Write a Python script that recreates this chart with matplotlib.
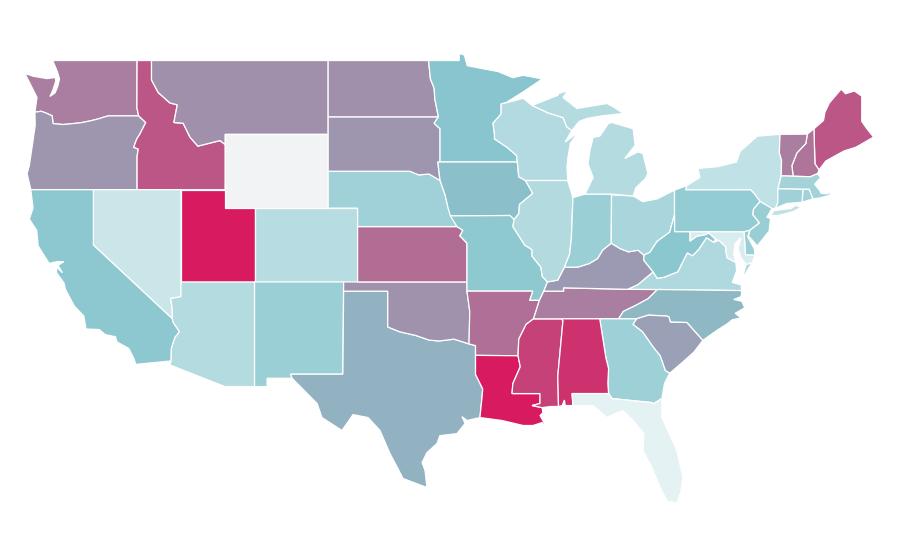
import numpy as np
import matplotlib
matplotlib.use('Agg')
import matplotlib.pyplot as plt
from matplotlib.colors import LinearSegmentedColormap

# state outlines, lon/lat
WA = [[(-122.76,49),(-117.03,49),(-117.04,46.42),(-116.92,46.0),(-118.98,46.0),(-119.3,45.93),(-119.6,45.85),(-120.2,45.73),(-120.9,45.62),(-122.06,45.53),(-122.74,45.58),(-122.8,46.0),(-123.2,46.15),(-123.55,46.25),(-123.97,46.2),(-123.83,47.0),(-124.3,47.75),(-124.65,48.3),(-124.1,48.15),(-123.15,48.02),(-122.6,48.08),(-122.55,47.9),(-122.75,47.4),(-122.95,47.05),(-122.6,47.25),(-122.42,47.6),(-122.3,48.0),(-122.45,48.4)]]
OR = [[(-123.97,46.2),(-123.55,46.25),(-123.2,46.15),(-122.8,46.0),(-122.74,45.58),(-122.06,45.53),(-120.9,45.62),(-120.2,45.73),(-119.6,45.85),(-119.3,45.93),(-118.98,46.0),(-116.92,46.0),(-116.44,45.64),(-116.85,45.0),(-117.05,44.75),(-117.26,44.3),(-116.95,44.2),(-117.03,43.8),(-117.03,42),(-124.25,42),(-124.5,42.87),(-124.35,43.3),(-124.1,44.66),(-123.95,45.5)]]
ID = [[(-117.03,49),(-116.05,49),(-116.05,47.95),(-115.6,47.27),(-114.8,46.7),(-114.3,46.6),(-114.53,45.64),(-113.9,45.6),(-113.44,44.85),(-112.9,44.36),(-111.4,44.66),(-111.05,44.45),(-111.05,42),(-117.03,42),(-117.03,43.8),(-116.95,44.2),(-117.26,44.3),(-117.05,44.75),(-116.85,45.0),(-116.44,45.64),(-116.92,46.0),(-117.04,46.42)]]
MT = [[(-116.05,49),(-104.05,49),(-104.05,45),(-111.05,45),(-111.05,44.45),(-111.4,44.66),(-112.9,44.36),(-113.44,44.85),(-113.9,45.6),(-114.53,45.64),(-114.3,46.6),(-114.8,46.7),(-115.6,47.27),(-116.05,47.95)]]
WY = [[(-111.05,45),(-104.05,45),(-104.05,41),(-111.05,41)]]
UT = [[(-114.05,42),(-111.05,42),(-111.05,41),(-109.05,41),(-109.05,37),(-114.05,37)]]
CO = [[(-109.05,41),(-102.05,41),(-102.05,37),(-109.05,37)]]
NV = [[(-120,42),(-114.05,42),(-114.05,36.2),(-114.75,36.1),(-114.65,35.6),(-114.63,35),(-120,39)]]
CA = [[(-124.25,42),(-120,42),(-120,39),(-114.63,35),(-114.57,34.8),(-114.15,34.3),(-114.45,34.0),(-114.7,33.4),(-114.72,32.72),(-117.12,32.53),(-117.25,32.85),(-117.6,33.4),(-118.4,33.75),(-118.5,34.03),(-119.2,34.15),(-119.6,34.42),(-120.5,34.45),(-120.65,35.15),(-121.3,35.7),(-121.9,36.6),(-122.0,36.95),(-122.5,37.5),(-122.5,37.8),(-122.1,37.5),(-122.4,37.9),(-122.0,38.1),(-122.5,38.1),(-123.0,38.0),(-123.75,38.95),(-123.85,39.8),(-124.35,40.4),(-124.1,41.0)]]
AZ = [[(-114.05,37),(-109.05,37),(-109.05,31.33),(-111.07,31.33),(-114.8,32.5),(-114.72,32.72),(-114.7,33.4),(-114.45,34.0),(-114.15,34.3),(-114.57,34.8),(-114.63,35),(-114.65,35.6),(-114.75,36.1),(-114.05,36.2)]]
NM = [[(-109.05,37),(-103,37),(-103.05,32),(-106.6,32),(-106.5,31.78),(-108.2,31.78),(-108.2,31.33),(-109.05,31.33)]]
TX = [[(-103,36.5),(-100,36.5),(-100,34.56),(-99.2,34.3),(-98.1,34.1),(-97.2,33.85),(-96.5,33.8),(-95.5,33.9),(-94.48,33.64),(-94.04,33.55),(-94.04,31.99),(-93.55,31.2),(-93.6,30.73),(-93.74,29.65),(-94.62,29.49),(-94.96,29.7),(-94.75,29.33),(-95.3,28.78),(-96.46,28.67),(-96.66,28.24),(-97.34,27.75),(-97.67,27.21),(-97.47,26.78),(-97.34,25.86),(-98.97,26.35),(-99.31,26.89),(-99.85,27.7),(-100.53,28.95),(-101.34,29.65),(-102.36,29.81),(-103.11,28.95),(-104.47,29.65),(-104.8,30.41),(-106.5,31.78),(-106.6,32),(-103.05,32)]]
OK = [[(-103,37),(-94.62,37),(-94.62,36.5),(-94.43,35.4),(-94.48,33.64),(-95.5,33.9),(-96.5,33.8),(-97.2,33.85),(-98.1,34.1),(-99.2,34.3),(-100,34.56),(-100,36.5),(-103,36.5)]]
KS = [[(-102.05,40),(-95.3,40),(-94.9,39.8),(-95.1,39.5),(-94.62,39.1),(-94.62,37),(-102.05,37)]]
NE = [[(-104.05,43),(-98.5,43),(-97.9,42.8),(-97.2,42.85),(-96.45,42.5),(-96.1,41.7),(-95.9,41.0),(-95.3,40),(-102.05,40),(-102.05,41),(-104.05,41)]]
SD = [[(-104.05,45.95),(-96.56,45.95),(-96.85,45.6),(-96.45,45.3),(-96.45,43.5),(-96.6,43.5),(-96.45,42.5),(-97.2,42.85),(-97.9,42.8),(-98.5,43),(-104.05,43)]]
ND = [[(-104.05,49),(-97.23,49),(-97.1,48),(-96.85,47.5),(-96.8,46.9),(-96.56,45.95),(-104.05,45.95)]]
MN = [[(-97.23,49),(-95.15,49),(-95.15,49.38),(-94.8,49.3),(-94.6,48.72),(-93.5,48.55),(-92.5,48.4),(-91.5,48.07),(-90.8,48.2),(-89.5,48.0),(-90.8,47.3),(-92.0,46.7),(-92.3,46.65),(-92.3,46.1),(-92.85,45.6),(-92.75,45.0),(-92.75,44.75),(-91.9,44.3),(-91.25,43.85),(-91.2,43.5),(-96.45,43.5),(-96.45,45.3),(-96.85,45.6),(-96.56,45.95),(-96.8,46.9),(-96.85,47.5),(-97.1,48)]]
IA = [[(-96.45,43.5),(-91.2,43.5),(-91.1,42.7),(-90.65,42.5),(-90.15,41.8),(-91.05,41.2),(-91.1,40.7),(-91.42,40.38),(-91.7,40.6),(-95.75,40.58),(-95.9,41.0),(-96.1,41.7),(-96.45,42.5),(-96.6,43.5)]]
MO = [[(-95.75,40.58),(-91.7,40.6),(-91.42,40.38),(-91.5,40.0),(-90.7,39.0),(-90.2,38.75),(-90.2,38.4),(-89.6,37.8),(-89.5,37.3),(-89.15,37.0),(-89.4,36.5),(-89.7,36.0),(-90.37,36.0),(-90.15,36.5),(-94.62,36.5),(-94.62,39.1),(-95.1,39.5),(-94.9,39.8),(-95.3,40)]]
AR = [[(-94.62,36.5),(-90.15,36.5),(-90.37,36),(-89.7,36),(-90.1,35.0),(-90.6,34.7),(-91.1,33.9),(-91.15,33.0),(-94.04,33.02),(-94.04,33.55),(-94.48,33.64),(-94.43,35.4)]]
LA = [[(-94.04,33.02),(-91.15,33.0),(-91.0,32.4),(-91.5,31.5),(-91.56,30.95),(-89.66,30.95),(-89.66,30.41),(-90.2,30.3),(-89.52,30.19),(-89.46,29.92),(-89.66,29.76),(-89.11,29.0),(-89.52,29.38),(-90.13,29.22),(-90.81,29.22),(-92.24,29.49),(-93.74,29.65),(-93.6,30.73),(-93.55,31.2),(-94.04,31.99)]]
MS = [[(-90.1,35),(-88.2,35),(-88.1,34.9),(-88.45,31.9),(-88.4,30.25),(-88.9,30.25),(-89.52,30.19),(-90.2,30.3),(-89.66,30.41),(-89.66,30.95),(-91.56,30.95),(-91.5,31.5),(-91,32.4),(-91.15,33),(-91.1,33.9),(-90.6,34.7)]]
TN = [[(-90.1,35.0),(-88.2,35),(-85.6,35),(-84.32,35),(-84.0,35.4),(-83.1,35.75),(-82.3,36.1),(-81.68,36.59),(-83.68,36.6),(-88.07,36.68),(-88.05,36.5),(-89.4,36.5),(-89.7,36)]]
KY = [[(-89.4,36.5),(-88.05,36.5),(-88.07,36.68),(-83.68,36.6),(-83.0,36.85),(-81.97,37.54),(-82.6,38.17),(-82.6,38.45),(-83.0,38.72),(-83.65,38.63),(-84.2,38.8),(-84.82,39.1),(-85.4,38.73),(-85.75,38.27),(-86.3,38.0),(-87.1,37.8),(-88.0,37.8),(-88.45,37.1),(-89.15,37.0)]]
IL = [[(-90.65,42.5),(-87.8,42.5),(-87.76,42.44),(-87.42,41.57),(-87.53,39.35),(-87.65,38.5),(-88.0,37.8),(-88.45,37.1),(-89.15,37.0),(-89.5,37.3),(-89.6,37.8),(-90.2,38.4),(-90.2,38.75),(-90.7,39),(-91.5,40),(-91.42,40.38),(-91.1,40.7),(-91.05,41.2),(-90.15,41.8)]]
IN = [[(-87.42,41.57),(-86.6,41.76),(-84.8,41.76),(-84.82,39.1),(-85.4,38.73),(-85.75,38.27),(-86.3,38),(-87.1,37.8),(-88,37.8),(-87.65,38.5),(-87.53,39.35)]]
OH = [[(-84.8,41.72),(-83.33,41.66),(-82.67,41.35),(-81.7,41.5),(-80.52,41.98),(-80.52,40.64),(-80.85,39.7),(-81.7,39.2),(-82.2,38.6),(-82.6,38.45),(-83,38.72),(-83.65,38.63),(-84.2,38.8),(-84.82,39.1)]]
MI = [[(-86.6,41.76),(-84.8,41.76),(-83.33,41.66),(-83.15,42.1),(-82.5,42.6),(-82.33,42.88),(-82.67,43.96),(-83.0,44.05),(-83.9,43.69),(-83.2,44.4),(-83.33,45.3),(-84.77,45.64),(-85.0,45.6),(-85.6,44.9),(-86.05,44.83),(-86.27,44.12),(-86.4,43.4),(-86.05,42.66)],
      [(-90.2,46.56),(-88.44,47.12),(-88.44,47.2),(-87.76,47.37),(-88.1,47.0),(-87.15,46.4),(-85.1,46.67),(-84.6,46.45),(-84.0,46.13),(-85.45,46.0),(-86.47,45.86),(-87.0,45.7),(-87.5,45.2),(-87.85,45.4),(-88.1,45.9),(-89.1,46.15)]]
WI = [[(-92.3,46.65),(-92.0,46.7),(-90.8,46.95),(-90.2,46.56),(-89.1,46.15),(-88.1,45.9),(-87.85,45.4),(-87.5,45.2),(-87.95,44.58),(-87.08,45.1),(-87.6,44.5),(-87.76,43.74),(-87.83,43.2),(-87.76,42.44),(-87.8,42.5),(-90.65,42.5),(-91.1,42.7),(-91.2,43.5),(-91.25,43.85),(-91.9,44.3),(-92.75,44.75),(-92.75,45),(-92.85,45.6),(-92.3,46.1)]]
PA = [[(-80.52,41.98),(-79.68,42.22),(-79.76,42),(-75.35,42),(-75.1,41.8),(-74.7,41.36),(-75.15,40.95),(-75.2,40.65),(-74.75,40.2),(-75.4,39.8),(-75.8,39.72),(-80.52,39.72)]]
NY = [[(-79.68,42.22),(-78.8,42.66),(-78.93,43.15),(-77.56,43.25),(-76.3,43.5),(-76.07,44.07),(-74.9,44.9),(-73.35,45),(-73.4,44),(-73.25,43.6),(-73.27,42.75),(-73.5,42.05),(-73.5,41.3),(-73.65,41.0),(-73.9,40.95),(-74.7,41.36),(-75.1,41.8),(-75.35,42),(-79.76,42)],
      [(-74.0,40.6),(-73.75,40.87),(-72.6,40.98),(-72.3,41.15),(-71.9,41.05),(-72.5,40.8),(-73.5,40.6)]]
NJ = [[(-74.7,41.36),(-73.9,40.98),(-74.25,40.5),(-74.0,40.45),(-74.1,39.75),(-74.9,38.95),(-75.5,39.5),(-75.4,39.8),(-74.75,40.2),(-75.2,40.65),(-75.15,40.95)]]
DE = [[(-75.8,39.72),(-75.4,39.8),(-75.55,39.45),(-75.1,38.8),(-75.05,38.45),(-75.7,38.46)]]
MD = [[(-79.48,39.72),(-75.8,39.72),(-75.7,38.46),(-75.05,38.45),(-75.25,38.03),(-75.65,37.95),(-76.0,38.3),(-76.2,38.8),(-76.0,39.4),(-76.4,39.1),(-76.5,38.5),(-76.35,38.05),(-76.95,38.3),(-77.05,38.7),(-77.05,38.9),(-77.5,39.25),(-77.75,39.32),(-78.2,39.65),(-78.45,39.55),(-79.0,39.47),(-79.48,39.2)]]
VA = [[(-83.68,36.6),(-81.68,36.59),(-75.95,36.53),(-76.0,36.85),(-76.6,36.97),(-76.3,37.6),(-76.35,38.05),(-76.95,38.3),(-77.05,38.7),(-77.05,38.9),(-77.5,39.25),(-77.85,39.15),(-78.35,39.4),(-78.87,38.77),(-79.3,38.42),(-79.65,38.58),(-80.3,37.55),(-81.25,37.25),(-81.7,37.2),(-81.97,37.54),(-83,36.85)],
      [(-75.65,37.95),(-75.25,38.03),(-75.95,37.15)]]
WV = [[(-80.52,40.64),(-80.52,39.72),(-79.48,39.72),(-79.48,39.2),(-79.0,39.47),(-78.45,39.55),(-78.2,39.65),(-77.75,39.32),(-77.85,39.15),(-78.35,39.4),(-78.87,38.77),(-79.3,38.42),(-79.65,38.58),(-80.3,37.55),(-81.25,37.25),(-81.7,37.2),(-81.97,37.54),(-82.6,38.17),(-82.6,38.45),(-82.2,38.6),(-81.7,39.2),(-80.85,39.7)]]
NC = [[(-84.32,35),(-84,35.4),(-83.1,35.75),(-82.3,36.1),(-81.68,36.59),(-75.95,36.53),(-76.0,36.2),(-76.5,36.05),(-75.95,35.95),(-75.75,35.6),(-76.4,35.3),(-76.0,35.05),(-76.6,34.95),(-76.9,34.75),(-77.65,34.37),(-78.6,33.83),(-79.68,34.8),(-80.8,34.82),(-80.9,35.1),(-81.05,35.15),(-82.3,35.2),(-83.1,35.0)]]
SC = [[(-83.1,35.0),(-82.3,35.2),(-81.05,35.15),(-80.9,35.1),(-80.8,34.82),(-79.68,34.8),(-78.6,33.83),(-79.2,33.2),(-79.9,32.7),(-80.85,32.05),(-81.15,32.2),(-81.5,33.0),(-82.0,33.5),(-82.7,34.3),(-83.35,34.7)]]
GA = [[(-85.6,35),(-84.32,35),(-83.1,35.0),(-83.35,34.7),(-82.7,34.3),(-82,33.5),(-81.5,33),(-81.15,32.2),(-80.85,32.05),(-81.2,31.5),(-81.38,30.68),(-81.95,30.4),(-82.05,30.46),(-84.77,30.68),(-85.0,30.95),(-85.05,31.5),(-85.0,32.3),(-85.18,32.87)]]
AL = [[(-88.2,35),(-85.6,35),(-85.18,32.87),(-85.0,32.3),(-85.05,31.5),(-85.0,30.95),(-87.48,30.95),(-87.42,30.3),(-87.95,30.3),(-88.0,30.6),(-88.15,30.3),(-88.4,30.25),(-88.45,31.9),(-88.1,34.9)]]
FL = [[(-87.48,30.95),(-85,30.95),(-84.77,30.68),(-82.05,30.46),(-81.95,30.4),(-81.38,30.68),(-81.38,29.65),(-80.36,27.86),(-79.95,26.4),(-80.1,25.6),(-80.36,25.04),(-81.0,25.1),(-81.5,25.86),(-82.05,26.94),(-82.66,27.86),(-82.6,28.78),(-83.33,29.49),(-84.02,30.03),(-84.56,29.87),(-85.1,29.65),(-86.06,30.3),(-87.42,30.3)]]
ME = [[(-71.05,45.3),(-70.4,45.75),(-70.3,46.2),(-70.0,46.7),(-69.2,47.45),(-68.9,47.2),(-68.3,47.35),(-67.8,47.07),(-67.8,45.7),(-67.45,45.3),(-67.0,44.85),(-68.2,44.3),(-69.0,44.1),(-69.8,43.75),(-70.25,43.55),(-70.7,43.07),(-70.98,43.4)]]
NH = [[(-71.5,45.01),(-71.05,45.3),(-70.98,43.4),(-70.7,43.07),(-70.8,42.87),(-71.3,42.7),(-72.46,42.73),(-72.55,43.3),(-72.2,44),(-71.6,44.5)]]
VT = [[(-73.35,45),(-71.5,45.01),(-71.6,44.5),(-72.2,44),(-72.55,43.3),(-72.46,42.73),(-73.27,42.75),(-73.25,43.6),(-73.4,44)]]
MA = [[(-73.5,42.05),(-73.27,42.75),(-71.3,42.7),(-70.8,42.87),(-70.6,42.65),(-71.0,42.3),(-70.65,41.95),(-70.55,41.8),(-70.1,41.78),(-70.0,42.05),(-69.95,41.7),(-70.65,41.55),(-71.12,41.5),(-71.38,42.02),(-71.8,42.02)]]
RI = [[(-71.8,42.02),(-71.38,42.02),(-71.12,41.5),(-71.85,41.32)]]
CT = [[(-73.5,42.05),(-71.8,42.02),(-71.85,41.32),(-72.9,41.25),(-73.65,41.0),(-73.5,41.3)]]

states = [WA,OR,ID,MT,WY,UT,CO,NV,CA,AZ,NM,TX,OK,KS,NE,SD,ND,MN,IA,MO,AR,LA,MS,TN,KY,IL,IN,OH,MI,WI,PA,NY,NJ,DE,MD,VA,WV,NC,SC,GA,AL,FL,ME,NH,VT,MA,RI,CT]
# shade of each state, 0 lightest teal .. 1 full pink, Wyoming has none
values = [0.71,0.64,0.825,0.66,np.nan,1.0,0.255,0.16,0.475,0.27,0.40,0.56,0.65,0.76,0.375,0.64,0.66,0.50,0.52,0.47,0.75,1.0,0.89,0.71,0.625,0.285,0.40,0.33,0.27,0.28,0.44,0.21,0.41,0.40,0.08,0.30,0.49,0.54,0.61,0.39,0.93,0.02,0.825,0.74,0.71,0.36,0.37,0.375]

cmap = LinearSegmentedColormap.from_list('teal_pink', ['#e8f4f6', '#88c6ce', '#d81b60'])
cmap.set_bad('#f2f3f5')

fig = plt.figure(figsize=(9, 5.6), dpi=100)
ax = fig.add_axes([0, 0, 1, 1])
for rings, val in zip(states, values):
    for ring in rings:
        lon, lat = zip(*ring)
        ax.fill(lon, lat, facecolor=cmap(np.ma.masked_invalid(val)), edgecolor='white', linewidth=0.9)

ax.set_xlim(-126.343, -65.203)
ax.set_ylim(21.93, 52.28)
ax.axis('off')
fig.savefig('out.png', dpi=100, facecolor='white')
